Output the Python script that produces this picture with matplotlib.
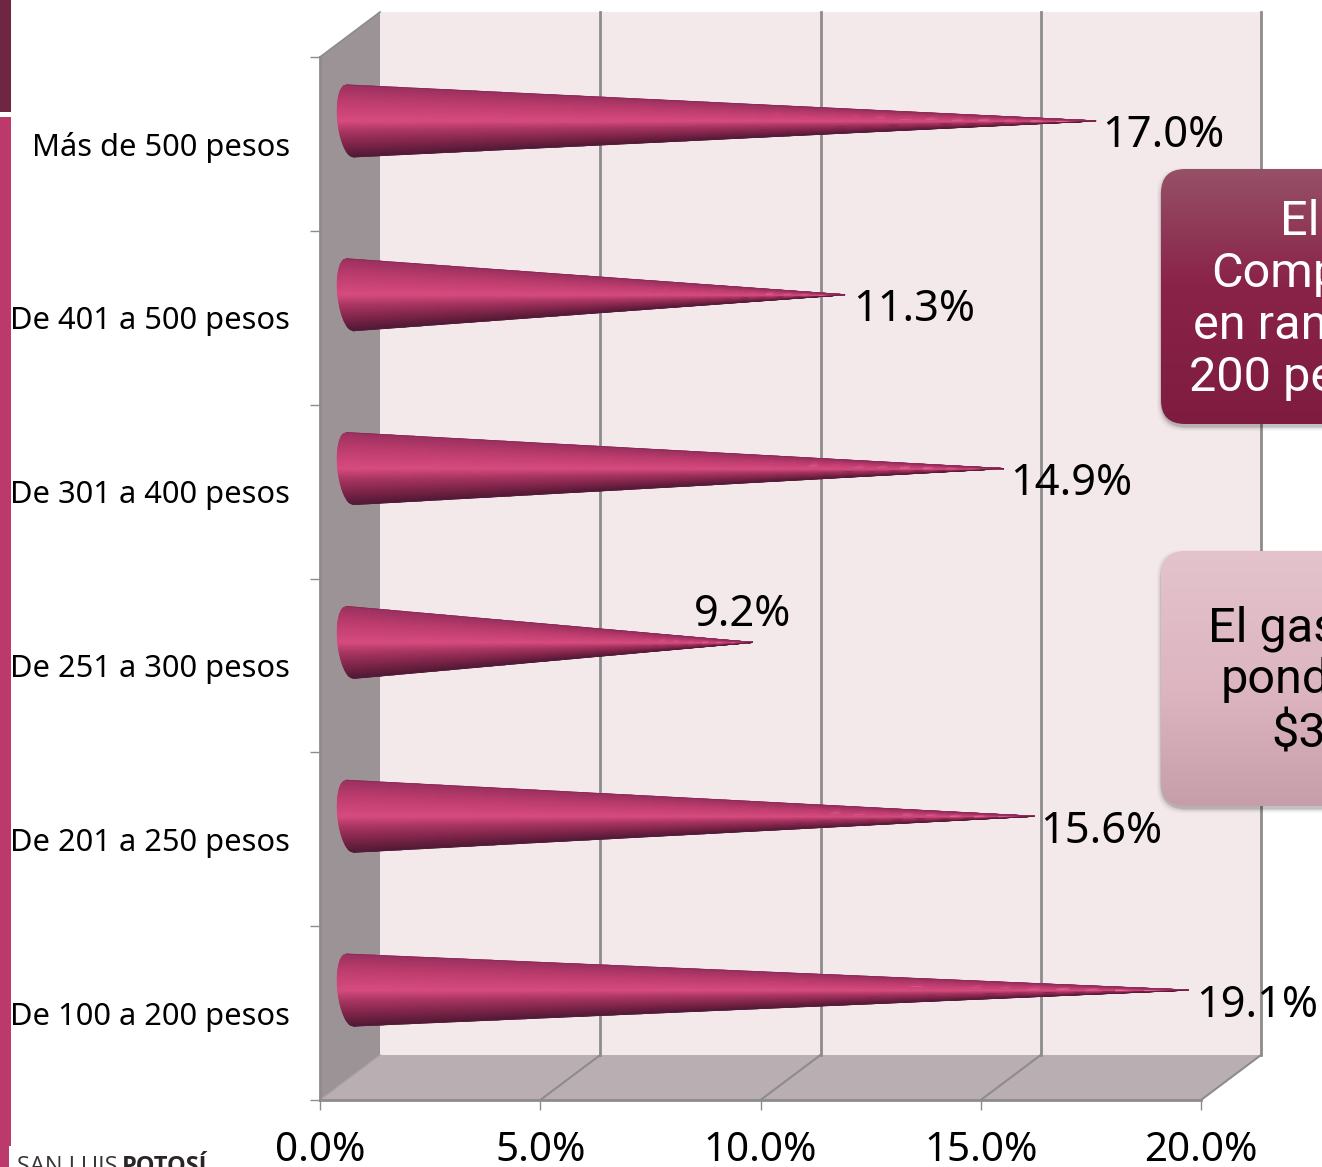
import numpy as np
import matplotlib
matplotlib.use("Agg")
import matplotlib.pyplot as plt
from matplotlib.colors import LinearSegmentedColormap
from matplotlib.patches import FancyBboxPatch, Polygon, Rectangle

categories = ["De 100 a 200 pesos", "De 201 a 250 pesos", "De 251 a 300 pesos",
              "De 301 a 400 pesos", "De 401 a 500 pesos", "Más de 500 pesos"]
values = [19.1, 15.6, 9.2, 14.9, 11.3, 17.0]
value_labels = ["19.1%", "15.6%", "9.2%", "14.9%", "11.3%", "17.0%"]
x_ticks = [0, 5, 10, 15, 20]
x_tick_labels = ["0.0%", "5.0%", "10.0%", "15.0%", "20.0%"]
box1_lines = ["El", "Comp", "en ran", "200 pe"]
box2_lines = ["El gas", "pond", "$3"]

# label offsets from the cone tip, in pixels
label_dx = [8, 6, -58, 7, 8, 6]
label_dy = [-16, -16, 27, -15, -15, -15]

W, H = 1322, 1167
FONT = "Noto Sans"
GRID = "#8d8b8c"
plt.rcParams["font.family"] = FONT

fig = plt.figure(figsize=(W / 100, H / 100), dpi=100, facecolor="white")

# pixel axes behind and in front of the chart
back = fig.add_axes([0, 0, 1, 1], zorder=0)
back.set_xlim(0, W)
back.set_ylim(H, 0)
back.axis("off")
front = fig.add_axes([0, 0, 1, 1], zorder=2)
front.set_xlim(0, W)
front.set_ylim(H, 0)
front.axis("off")

ax = fig.add_axes([320 / W, 1 - 1100 / H, 881 / W, 1043 / H], zorder=1)
ax.patch.set_visible(False)
ax.set_xlim(0, 20)
ax.set_ylim(-0.5, 5.5)

px_x = 20 / 881
px_y = 6 / 1043
depth_x = 60 * px_x
depth_y = 45 * px_y
y0, y1 = -0.5, 5.5

# side wall, floor, back wall
ax.add_patch(Rectangle((depth_x, y0 + depth_y), 20, 6, fc="#f3e9eb", ec="none", zorder=1, clip_on=False))
ax.add_patch(Polygon([(0, y0), (depth_x, y0 + depth_y), (20 + depth_x, y0 + depth_y), (20, y0)],
                     fc="#b9afb2", ec="none", zorder=1, clip_on=False))
ax.add_patch(Polygon([(0, y0), (depth_x, y0 + depth_y), (depth_x, y1 + depth_y), (0, y1)],
                     fc="#9c9396", ec="none", zorder=1, clip_on=False))
ax.plot([0, depth_x], [y1, y1 + depth_y], color=GRID, lw=1.2, zorder=2, clip_on=False)
ax.plot([0, depth_x], [y0, y0 + depth_y], color="#a9a1a4", lw=1, zorder=2, clip_on=False)
for t in x_ticks[1:]:
    ax.plot([t + depth_x, t + depth_x], [y0 + depth_y, y1 + depth_y], color=GRID, lw=2, zorder=2, clip_on=False)
    ax.plot([t, t + depth_x], [y0, y0 + depth_y], color=GRID, lw=1.5, zorder=2, clip_on=False)

# cones
cone_cmap = LinearSegmentedColormap.from_list(
    "cone", [(0, "#4f1a35"), (0.15, "#7a2347"), (0.35, "#a83562"), (0.5, "#d64c7e"),
             (0.6, "#cf467a"), (0.8, "#bb3c6c"), (1, "#9c3160")])
off_x = 29 * px_x
off_y = 23 * px_y
tip_x = 27 * px_x
radius = 36 * px_y
cap = 12 * px_x
skew = 3.5 * px_x
vv = np.linspace(-1, 1, 61)
tt = np.linspace(0, 1, 30)
for i, val in enumerate(values):
    v, t = np.meshgrid(vv, tt)
    tip = val + tip_x
    left = off_x + 0.8 * px_x - cap * np.sqrt(1 - v ** 2) - skew * v
    xs = left * (1 - t) + tip * t
    ys = i + off_y + v * radius * (1 - t)
    ax.pcolormesh(xs, ys, (v + 1) / 2, cmap=cone_cmap, vmin=0, vmax=1, shading="gouraud",
                  zorder=3, clip_on=False)
    ax.plot(xs[:, -1], ys[:, -1], color="#8b2a55", lw=0.6, zorder=4, clip_on=False)
    ax.plot(xs[:, 0], ys[:, 0], color="#5a1c3a", lw=0.6, zorder=4, clip_on=False)
    ax.annotate(value_labels[i], xy=(tip, i + off_y), xytext=(label_dx[i], label_dy[i]),
                textcoords="offset pixels", ha="left", va="center", fontsize=31.3,
                color="black", zorder=6, annotation_clip=False)

# axes, ticks
for side in ["top", "right"]:
    ax.spines[side].set_visible(False)
for side in ["left", "bottom"]:
    ax.spines[side].set_color(GRID)
    ax.spines[side].set_linewidth(2)
ax.set_xticks(x_ticks)
ax.set_xticklabels(x_tick_labels, fontsize=29)
ax.tick_params(axis="x", length=7, width=1, color=GRID, pad=15)
ax.set_yticks([k - 0.5 for k in range(len(categories) + 1)])
ax.set_yticklabels([])
ax.set_yticks(range(len(categories)), labels=categories, minor=True, fontsize=22.2)
ax.tick_params(axis="y", which="major", length=7, width=1, color=GRID)
ax.tick_params(axis="y", which="minor", length=0, pad=21.5)


def gradient_box(x, y, w, h, stops):
    # shadow first, then the gradient clipped to a rounded box
    for grow, alpha in [(4, 0.03), (2.5, 0.05), (1.2, 0.08), (0.4, 0.1)]:
        front.add_patch(FancyBboxPatch((x - grow, y - grow + 3), w + 2 * grow, h + 2 * grow,
                                       boxstyle="round,pad=0,rounding_size=26", fc="black",
                                       ec="none", alpha=alpha, zorder=1))
    patch = FancyBboxPatch((x, y), w, h, boxstyle="round,pad=0,rounding_size=24", fc="none", ec="none", zorder=2)
    front.add_patch(patch)
    cmap = LinearSegmentedColormap.from_list("box", stops)
    img = front.imshow(np.linspace(0, 1, 256).reshape(-1, 1), cmap=cmap, extent=(x, x + w, y + h, y),
                       aspect="auto", zorder=2)
    img.set_clip_path(patch)
    front.set_xlim(0, W)
    front.set_ylim(H, 0)


gradient_box(1161, 169, 300, 255, [(0, "#965168"), (0.45, "#8a2348"), (1, "#7e1c3f")])
gradient_box(1161, 551, 300, 255, [(0, "#e4c3cc"), (0.55, "#dcb5c0"), (1, "#c59eaa")])

for label, px, py in zip(box1_lines, [1280, 1211, 1193, 1189], [235, 287, 339, 391]):
    front.text(px, py, label, color="white", fontsize=35, va="baseline", ha="left", zorder=3, family="Roboto")
for label, px, py in zip(box2_lines, [1208, 1221, 1271], [642, 693, 747]):
    front.text(px, py, label, color="black", fontsize=35, va="baseline", ha="left", zorder=3, family="Roboto")

# slide decoration on the left
back.add_patch(Rectangle((0, 0), 11, 112, fc="#702643", ec="none"))
back.add_patch(Rectangle((0, 117), 11, 1029, fc="#bb3a6b", ec="none"))
back.add_patch(Rectangle((0, 1146), 9, 21, fc="#bb3a6b", ec="none"))
back.text(17, 1173, "SAN LUIS", fontsize=17, color="#3a3535", ha="left", va="baseline", family="Open Sans")
back.text(122, 1173, "POTOSÍ", fontsize=17, color="#2b2526", ha="left", va="baseline", family="Open Sans", fontweight="bold")

fig.savefig("out.png", dpi=100)
